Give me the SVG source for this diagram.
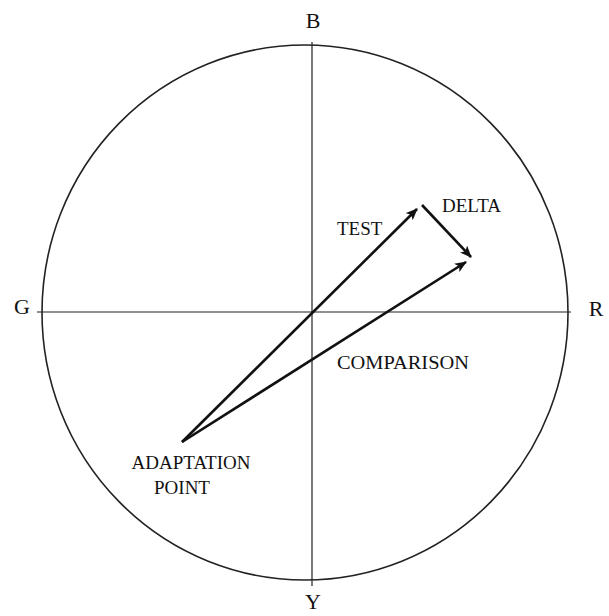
<svg xmlns="http://www.w3.org/2000/svg" width="609" height="616" viewBox="0 0 609 616">
<style>
text{font-family:"Liberation Serif","Times New Roman",serif;font-size:19px;fill:#111}
.ax{font-size:22px}
.axis{stroke:#222;stroke-width:1.2;fill:none}
.vec{stroke:#111;stroke-width:2.6;fill:none}
</style>
<defs>
<marker id="ah" viewBox="0 0 12 10" refX="11" refY="5" markerWidth="12" markerHeight="10" markerUnits="userSpaceOnUse" orient="auto">
<path d="M0,0 L12,5 L0,10 L3,5 Z" fill="#111"/>
</marker>
</defs>
<rect width="609" height="616" fill="#fff"/>
<g id="frame">
<ellipse class="axis" cx="305" cy="312.5" rx="263" ry="267.5" style="stroke-width:1.6"/>
<line class="axis" x1="312" y1="42" x2="312" y2="586"/>
<line class="axis" x1="37" y1="312" x2="571" y2="312"/>
</g>
<g id="label-B"><text class="ax" x="313" y="28" text-anchor="middle">B</text></g>
<g id="label-Y"><text class="ax" x="313" y="609" text-anchor="middle">Y</text></g>
<g id="label-G"><text class="ax" x="22" y="314" text-anchor="middle">G</text></g>
<g id="label-R"><text class="ax" x="596" y="316" text-anchor="middle">R</text></g>
<g id="connectors">
<line class="vec" x1="182" y1="442" x2="417" y2="209" marker-end="url(#ah)"/>
<line class="vec" x1="182" y1="442" x2="466" y2="262" marker-end="url(#ah)"/>
<line class="vec" x1="422" y1="205" x2="471" y2="257" marker-end="url(#ah)"/>
</g>
<g id="test"><text x="337" y="235">TEST</text></g>
<g id="delta"><text x="442" y="212">DELTA</text></g>
<g id="comparison"><text x="337" y="369" textLength="132" lengthAdjust="spacingAndGlyphs">COMPARISON</text></g>
<g id="adaptation"><text x="191" y="469" text-anchor="middle">ADAPTATION</text><text x="182" y="494" text-anchor="middle">POINT</text></g>
</svg>
